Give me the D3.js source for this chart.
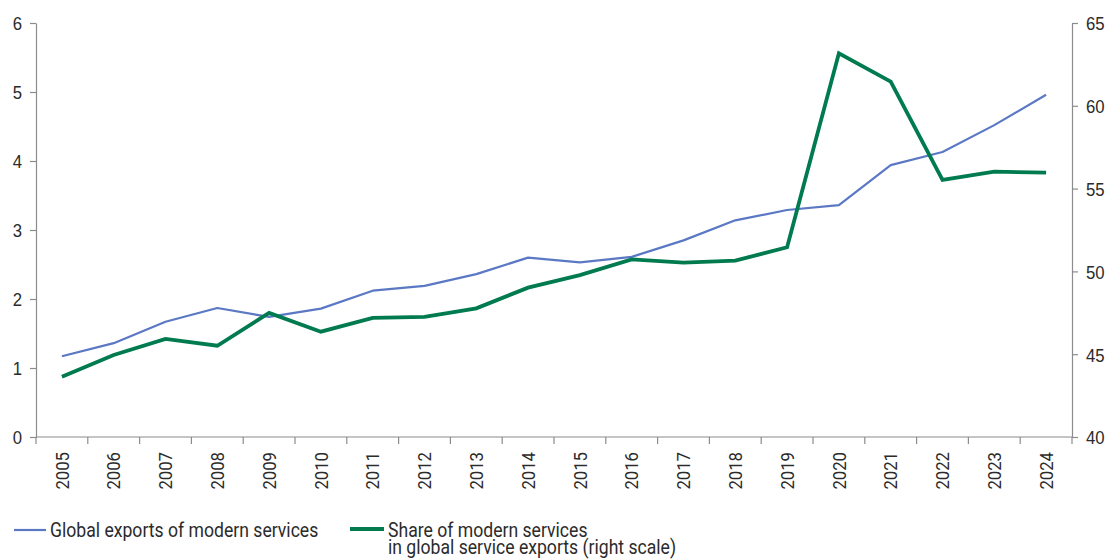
<!DOCTYPE html>
<html>
<head>
<meta charset="utf-8">
<script src="https://cdn.jsdelivr.net/npm/d3@7"></script>
<style>
  html, body { margin: 0; padding: 0; background: #fff; }
  svg { display: block; font-family: Roboto, "Noto Sans", sans-serif; }
  .axis text { fill: #2b2b2b; font-size: 19px; }
  .axis path, .axis line { stroke: #8c8c8c; stroke-width: 1.2; }
</style>
</head>
<body>
<svg id="chart" width="1110" height="560"></svg>
<script>
// Years on the x axis
const years = ["2005","2006","2007","2008","2009","2010","2011","2012","2013","2014",
               "2015","2016","2017","2018","2019","2020","2021","2022","2023","2024"];
// Global exports of modern services (left scale)
const exportsModern = [1.17, 1.36, 1.67, 1.87, 1.74, 1.86, 2.12, 2.19, 2.36, 2.60,
                       2.53, 2.61, 2.85, 3.14, 3.29, 3.36, 3.94, 4.13, 4.52, 4.96];
// Share of modern services in global service exports, % (right scale)
const shareModern = [43.64, 44.95, 45.92, 45.51, 47.49, 46.36, 47.19, 47.25, 47.77, 49.02,
                     49.78, 50.73, 50.53, 50.65, 51.46, 63.17, 61.46, 55.52, 56.02, 55.96];
// Axis ticks
const leftTicks = [0, 1, 2, 3, 4, 5, 6];
const rightTicks = [40, 45, 50, 55, 60, 65];
// Legend labels
const legendLabels = ["Global exports of modern services",
                      ["Share of modern services", "in global service exports (right scale)"]];

const colors = { exports: "#5b78c4", share: "#007a4f" };

const svg = d3.select("#chart");
const plot = { left: 36, right: 1072, top: 23, bottom: 437 };

const x = d3.scaleBand().domain(years).range([plot.left, plot.right]);
const yL = d3.scaleLinear().domain([0, 6]).range([plot.bottom, plot.top]);
const yR = d3.scaleLinear().domain([40, 65]).range([plot.bottom, plot.top]);

// Narrow the typeface a little (condensed look)
function condense(sel, k) {
  sel.each(function () {
    const w = this.getComputedTextLength();
    d3.select(this).attr("textLength", w * k).attr("lengthAdjust", "spacingAndGlyphs");
  });
}

// Left axis
svg.append("g").attr("class", "axis")
  .attr("transform", `translate(${plot.left},0)`)
  .call(d3.axisLeft(yL).tickValues(leftTicks).tickFormat(d3.format("d"))
        .tickSize(6).tickSizeOuter(0).tickPadding(8))
  .call(g => g.selectAll("text").attr("dy", "0.36em"));

// Right axis
svg.append("g").attr("class", "axis")
  .attr("transform", `translate(${plot.right},0)`)
  .call(d3.axisRight(yR).tickValues(rightTicks).tickFormat(d3.format("d"))
        .tickSize(6).tickSizeOuter(0).tickPadding(8))
  .call(g => g.selectAll("text").attr("dy", "0.36em"));

// Bottom axis with ticks at category boundaries
const xAxis = svg.append("g").attr("class", "axis")
  .attr("transform", `translate(0,${plot.bottom})`);
xAxis.append("line")
  .attr("x1", plot.left).attr("x2", plot.right).attr("y1", 0).attr("y2", 0);
const bounds = years.map(d => x(d)).concat([plot.right]);
xAxis.selectAll(".tickb").data(bounds).join("line")
  .attr("x1", d => d).attr("x2", d => d).attr("y1", 0).attr("y2", 7);
xAxis.selectAll("text.yr").data(years).join("text")
  .attr("class", "yr")
  .attr("transform", d => `translate(${x(d) + x.bandwidth() / 2},15) rotate(-90)`)
  .attr("text-anchor", "end")
  .attr("dy", "0.35em")
  .text(d => d);

// Lines
const lineL = d3.line().x((d, i) => x(years[i]) + x.bandwidth() / 2).y(d => yL(d));
const lineR = d3.line().x((d, i) => x(years[i]) + x.bandwidth() / 2).y(d => yR(d));

svg.append("path").datum(exportsModern)
  .attr("fill", "none").attr("stroke", colors.exports).attr("stroke-width", 2.2)
  .attr("stroke-linejoin", "round")
  .attr("d", lineL);

svg.append("path").datum(shareModern)
  .attr("fill", "none").attr("stroke", colors.share).attr("stroke-width", 3.8)
  .attr("stroke-linejoin", "miter")
  .attr("d", lineR);

// Legend
const lg = svg.append("g").attr("font-size", 20).attr("fill", "#2b2b2b");
lg.append("line").attr("x1", 14).attr("x2", 46).attr("y1", 530).attr("y2", 530)
  .attr("stroke", colors.exports).attr("stroke-width", 2.2);
lg.append("text").attr("class", "lgt").attr("x", 50).attr("y", 537).text(legendLabels[0]);

lg.append("line").attr("x1", 350).attr("x2", 384).attr("y1", 529).attr("y2", 529)
  .attr("stroke", colors.share).attr("stroke-width", 3.8);
legendLabels[1].forEach((s, i) =>
  lg.append("text").attr("class", "lgt").attr("x", 388).attr("y", 537 + i * 17).text(s));

svg.selectAll("text").call(condense, 0.88);
</script>
</body>
</html>
